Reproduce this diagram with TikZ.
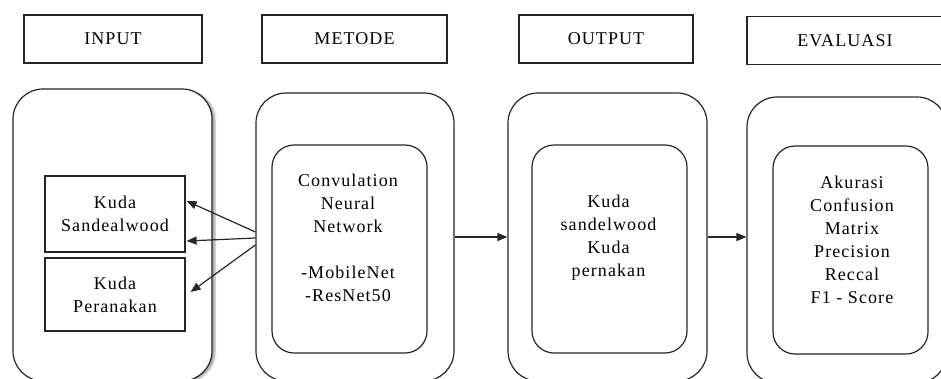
\documentclass[tikz,border=0pt]{standalone}
\usepackage{fontspec}
\newfontfamily\diagfont[LetterSpace=6]{Liberation Serif}
\usetikzlibrary{arrows.meta,shadows.blur,calc}

\begin{document}
\begin{tikzpicture}[x=1pt,y=-1pt,
  every node/.style={font=\diagfont\fontsize{18}{23}\selectfont, text=black},
  header/.style={draw=black!85, line width=1.2pt, minimum height=48pt, inner sep=0pt},
  outerbox/.style={draw=black!85, line width=1.2pt, rounded corners=30pt, inner sep=0pt},
  innerbox/.style={draw=black!85, line width=1.2pt, rounded corners=22pt, inner sep=0pt},
  classbox/.style={draw=black!85, line width=1.2pt, inner sep=0pt, align=center},
  txt/.style={align=center, inner sep=0pt},
  arr/.style={draw=black!85, line width=1.2pt, -{Triangle[length=10pt,width=8pt]}}]

\useasboundingbox (0,0) rectangle (941,378);
\clip (0,0) rectangle (941,378);

% column headers
\node[header, minimum width=178pt] (hin)  at (113,39)   {INPUT};
\node[header, minimum width=185pt] (hmet) at (354.5,39) {METODE};
\node[header, minimum width=174pt] (hout) at (606,39)   {OUTPUT};
\node[header, minimum width=196pt] (heva) at (845,40.5) {EVALUASI};

% outer rounded panels
\node[outerbox, minimum width=199pt, minimum height=292pt,
      blur shadow={shadow xshift=3pt, shadow yshift=-1pt, shadow blur steps=6, shadow opacity=35}, fill=white]
      (ii) at (112.5,235) {};
\node[outerbox, minimum width=198pt, minimum height=288pt] (mo) at (355,237)   {};
\node[outerbox, minimum width=199pt, minimum height=288pt] (oo) at (607.5,237) {};
\node[outerbox, minimum width=200pt, minimum height=286pt] (eo) at (847,240)   {};

% inner rounded panels
\node[innerbox, minimum width=155pt, minimum height=208pt] (mi) at (349.5,249) {};
\node[innerbox, minimum width=155pt, minimum height=208pt] (oi) at (609.5,249) {};
\node[innerbox, minimum width=155pt, minimum height=208pt] (ei) at (850.5,250) {};

% input classes
\node[classbox, minimum width=140pt, minimum height=76pt] (k1) at (115,214)   {Kuda\\Sandealwood};
\node[classbox, minimum width=140pt, minimum height=73pt] (k2) at (115,294.5) {Kuda\\Peranakan};

% panel texts
\node[txt] (tm) at (348,238) {Convulation\\Neural\\Network\\ \\-MobileNet\\-ResNet50};
\node[txt] (to) at (608.5,238) {Kuda\\sandelwood\\Kuda\\pernakan};
\node[txt] (te) at (852,239.5) {Akurasi\\Confusion\\Matrix\\Precision\\Reccal\\F1 - Score};

% connectors
\coordinate (s1) at ($(mo.west)+(0,-5)$);
\coordinate (s2) at ($(mo.west)+(0,1)$);
\coordinate (s3) at ($(mo.west)+(0,8)$);
\draw[arr] (s1) -- ($(k1.east)+(1,-13)$);
\draw[arr] (s2) -- ($(k1.east)+(1,27)$);
\draw[arr] (s3) -- ($(k2.east)+(5,-2.5)$);
\draw[arr] (mo.east) -- (oo.west);
\draw[arr] (oo.east) -- (oo.east -| eo.west);
\end{tikzpicture}
\end{document}
